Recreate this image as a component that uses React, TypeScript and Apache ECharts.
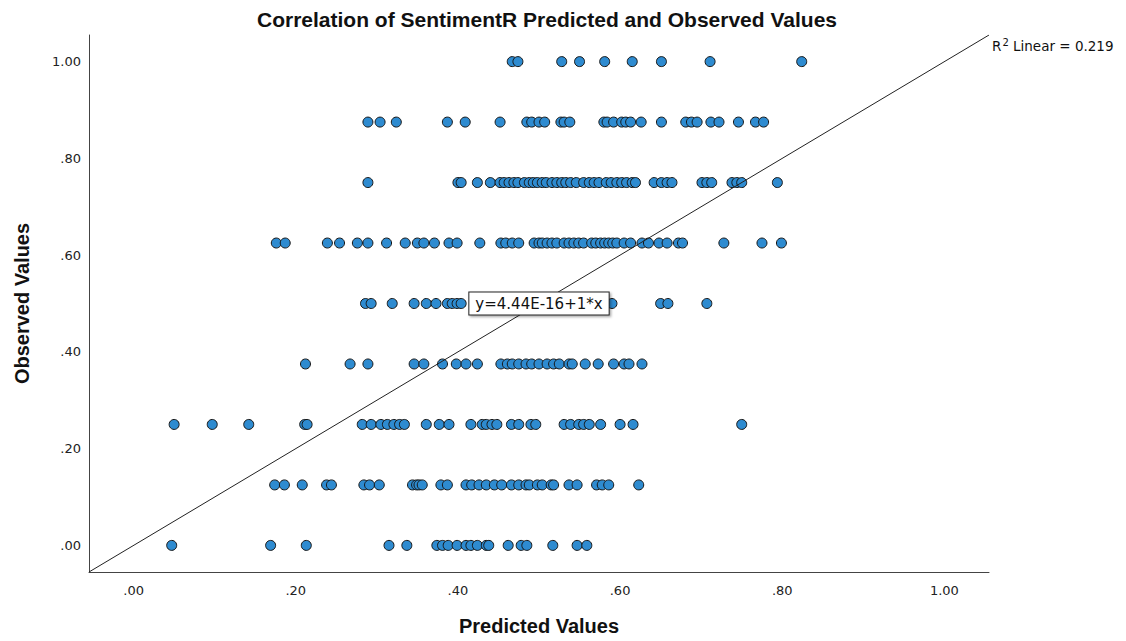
import React, { useEffect, useRef } from 'react';
import * as echarts from 'echarts';

// Observed value levels (rows of points)
const observedLevels = [1, 0.875, 0.75, 0.625, 0.5, 0.375, 0.25, 0.125, 0];

// Predicted values for each observed level
const predictedAt1000 = [0.467, 0.474, 0.528, 0.55, 0.581, 0.615, 0.651, 0.711, 0.824];
const predictedAt0875 = [0.289, 0.304, 0.324, 0.387, 0.409, 0.452, 0.485, 0.491, 0.5, 0.507, 0.527, 0.531, 0.538, 0.58, 0.584, 0.592, 0.602, 0.607, 0.613, 0.626, 0.651, 0.681, 0.688, 0.695, 0.712, 0.722, 0.746, 0.767, 0.777];
const predictedAt0750 = [0.289, 0.4, 0.404, 0.424, 0.44, 0.452, 0.457, 0.463, 0.469, 0.474, 0.482, 0.488, 0.493, 0.498, 0.504, 0.509, 0.516, 0.522, 0.528, 0.533, 0.539, 0.546, 0.555, 0.562, 0.568, 0.574, 0.583, 0.589, 0.596, 0.602, 0.608, 0.615, 0.619, 0.642, 0.651, 0.658, 0.664, 0.701, 0.707, 0.713, 0.738, 0.744, 0.75, 0.794];
const predictedAt0625 = [0.176, 0.187, 0.239, 0.254, 0.276, 0.289, 0.312, 0.335, 0.35, 0.358, 0.371, 0.389, 0.399, 0.427, 0.453, 0.459, 0.467, 0.475, 0.494, 0.5, 0.504, 0.51, 0.516, 0.522, 0.531, 0.537, 0.543, 0.549, 0.555, 0.565, 0.57, 0.576, 0.581, 0.586, 0.591, 0.596, 0.605, 0.613, 0.627, 0.635, 0.648, 0.658, 0.672, 0.677, 0.728, 0.775, 0.799];
const predictedAt0500 = [0.286, 0.293, 0.319, 0.346, 0.361, 0.373, 0.387, 0.393, 0.399, 0.404, 0.426, 0.451, 0.475, 0.506, 0.537, 0.562, 0.59, 0.65, 0.659, 0.707];
const predictedAt0375 = [0.212, 0.267, 0.289, 0.346, 0.358, 0.381, 0.398, 0.41, 0.424, 0.453, 0.461, 0.467, 0.475, 0.484, 0.491, 0.5, 0.51, 0.518, 0.525, 0.537, 0.541, 0.557, 0.573, 0.592, 0.605, 0.611, 0.627];
const predictedAt0250 = [0.05, 0.097, 0.142, 0.211, 0.214, 0.282, 0.293, 0.305, 0.313, 0.321, 0.328, 0.334, 0.361, 0.377, 0.389, 0.416, 0.43, 0.435, 0.442, 0.448, 0.466, 0.475, 0.49, 0.496, 0.531, 0.539, 0.549, 0.555, 0.562, 0.576, 0.6, 0.616, 0.75];
const predictedAt0125 = [0.174, 0.186, 0.208, 0.238, 0.244, 0.284, 0.291, 0.303, 0.344, 0.349, 0.352, 0.356, 0.379, 0.387, 0.41, 0.417, 0.426, 0.435, 0.445, 0.454, 0.466, 0.475, 0.484, 0.488, 0.498, 0.504, 0.515, 0.518, 0.537, 0.547, 0.571, 0.578, 0.586, 0.623];
const predictedAt0000 = [0.047, 0.169, 0.213, 0.315, 0.337, 0.374, 0.381, 0.388, 0.399, 0.41, 0.416, 0.424, 0.435, 0.438, 0.462, 0.478, 0.485, 0.517, 0.547, 0.559];

const predictedByLevel = [
  predictedAt1000, predictedAt0875, predictedAt0750, predictedAt0625, predictedAt0500,
  predictedAt0375, predictedAt0250, predictedAt0125, predictedAt0000,
];

const tickValues = [0, 0.2, 0.4, 0.6, 0.8, 1.0];
const axisMin = -0.055;
const axisMax = 1.055;
const fitIntercept = 0;
const fitSlope = 1;
const equationText = 'y=4.44E-16+1*x';
const r2Value = '0.219';
const titleText = 'Correlation of SentimentR Predicted and Observed Values';
const xName = 'Predicted Values';
const yName = 'Observed Values';

function fmt(v: number): string {
  const hit = tickValues.find((t) => Math.abs(t - v) < 1e-6);
  if (hit === undefined) return '';
  if (hit >= 1) return hit.toFixed(2);
  return '.' + Math.round(hit * 100).toString().padStart(2, '0');
}

export default function App() {
  const ref = useRef<HTMLDivElement>(null);
  useEffect(() => {
    if (!ref.current) return;
    const chart = echarts.init(ref.current, undefined, { renderer: 'svg' });
    const points: number[][] = [];
    observedLevels.forEach((obs, i) => {
      predictedByLevel[i].forEach((p) => points.push([p, obs]));
    });
    const font = 'DejaVu Sans';
    const axisCommon = {
      type: 'value' as const,
      min: axisMin,
      max: axisMax,
      splitNumber: 5,
      splitLine: { show: false },
      axisTick: { show: false },
      axisLine: { show: true, onZero: false, lineStyle: { color: '#444', width: 1 } },
      axisLabel: {
        formatter: fmt,
        showMinLabel: false,
        showMaxLabel: false,
        color: '#222',
        fontSize: 13,
        fontFamily: font,
      },
      nameLocation: 'middle' as const,
      nameTextStyle: { fontSize: 20, fontWeight: 'bold' as const, color: '#111', fontFamily: 'Liberation Sans' },
    };
    chart.setOption({
      animation: false,
      backgroundColor: '#fff',
      title: {
        text: titleText,
        left: 542,
        textAlign: 'center',
        top: 4,
        textStyle: { fontSize: 21, fontWeight: 'bold', color: '#111', fontFamily: 'Liberation Sans' },
      },
      grid: { left: 89, right: 137, top: 35, bottom: 68, containLabel: false },
      xAxis: { ...axisCommon, name: xName, nameGap: 44, axisLabel: { ...axisCommon.axisLabel, margin: 12 } },
      yAxis: { ...axisCommon, name: yName, nameGap: 57, axisLabel: { ...axisCommon.axisLabel, margin: 8 } },
      series: [
        {
          type: 'scatter',
          data: points,
          symbol: 'circle',
          symbolSize: 10,
          itemStyle: { color: '#2e8bd0', borderColor: '#161616', borderWidth: 1, opacity: 1 },
          z: 2,
        },
        {
          type: 'line',
          data: [
            [axisMin, fitIntercept + fitSlope * axisMin],
            [axisMax, fitIntercept + fitSlope * axisMax],
          ],
          symbol: 'none',
          lineStyle: { color: '#222', width: 1 },
          z: 3,
          silent: true,
          markPoint: {
            symbol: 'circle',
            symbolSize: 0,
            silent: true,
            data: [{ coord: [0.5, fitIntercept + fitSlope * 0.5] }],
            label: {
              show: true,
              position: 'inside',
              formatter: equationText,
              fontSize: 15,
              fontFamily: font,
              color: '#111',
              backgroundColor: '#fff',
              borderColor: '#222',
              borderWidth: 1,
              padding: [4, 6, 3, 6],
              shadowColor: 'rgba(0,0,0,0.35)',
              shadowBlur: 2,
              shadowOffsetX: 1.5,
              shadowOffsetY: 1.5,
            },
          },
        },
      ],
      graphic: [
        {
          type: 'text',
          left: 992,
          top: 37,
          style: {
            text: '{r|R}{s|2}{r| Linear = ' + r2Value + '}',
            rich: {
              r: { fontSize: 13.5, fontFamily: font, fill: '#111', verticalAlign: 'bottom', lineHeight: 16 },
              s: { fontSize: 10, fontFamily: font, fill: '#111', verticalAlign: 'top', lineHeight: 16, padding: [0, 0, 4, 1] },
            },
          },
        },
      ],
    });
    return () => chart.dispose();
  }, []);
  return <div ref={ref} style={{ position: 'fixed', left: 0, top: 0, width: 1126, height: 641 }} />;
}
